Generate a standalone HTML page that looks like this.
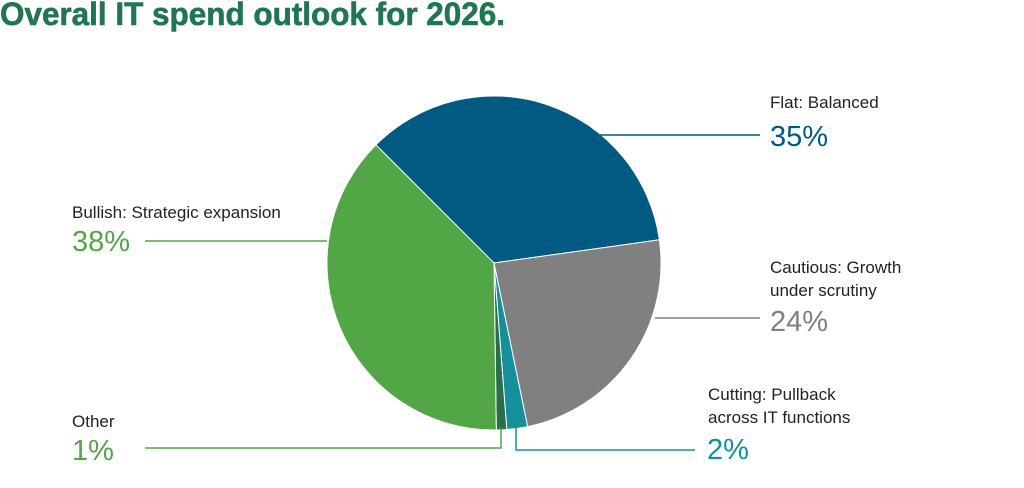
<!DOCTYPE html>
<html><head><meta charset="utf-8"><style>
html,body{margin:0;padding:0;background:#fff;width:1024px;height:488px;overflow:hidden}
text{font-family:"Liberation Sans",sans-serif}
</style></head><body>
<svg width="1024" height="488" viewBox="0 0 1024 488" xmlns="http://www.w3.org/2000/svg">
<text x="0" y="25" font-size="32" font-weight="bold" fill="#207650" stroke="#207650" stroke-width="0.6" textLength="505" lengthAdjust="spacingAndGlyphs">Overall IT spend outlook for 2026.</text>
<g stroke="#fff" stroke-width="1">
<path d="M494,263 L375.9,144.9 A167,167 0 0 1 659.4,239.8 Z" fill="#005a82"/>
<path d="M494,263 L659.4,239.8 A167,167 0 0 1 527.6,426.6 Z" fill="#808080"/>
<path d="M494,263 L527.6,426.6 A167,167 0 0 1 506.8,429.5 Z" fill="#13909a"/>
<path d="M494,263 L506.8,429.5 A167,167 0 0 1 496.3,430 Z" fill="#2a6e4a"/>
<path d="M494,263 L496.3,430 A167,167 0 0 1 375.9,144.9 Z" fill="#52a646"/>
</g>
<g fill="none" stroke-width="1.5">
<polyline points="600,135 760,135" stroke="#005a82"/>
<polyline points="145,241 327,241" stroke="#52a646"/>
<polyline points="655,318 760,318" stroke="#808080"/>
<polyline points="516,425 516,450 695,450" stroke="#13909a"/>
<polyline points="501,428 501,448 145,448" stroke="#52a646"/>
</g>
<g font-size="17" fill="#222">
<text x="770" y="108">Flat: Balanced</text>
<text x="72" y="218">Bullish: Strategic expansion</text>
<text x="770" y="273">Cautious: Growth</text>
<text x="770" y="296">under scrutiny</text>
<text x="708" y="400">Cutting: Pullback</text>
<text x="708" y="423">across IT functions</text>
<text x="72" y="427">Other</text>
</g>
<g font-size="29">
<text x="770" y="146" fill="#005a82">35%</text>
<text x="72" y="251" fill="#52a646">38%</text>
<text x="770" y="331" fill="#808080">24%</text>
<text x="707" y="459" fill="#13909a">2%</text>
<text x="72" y="460" fill="#52a646">1%</text>
</g>
</svg>
</body></html>
